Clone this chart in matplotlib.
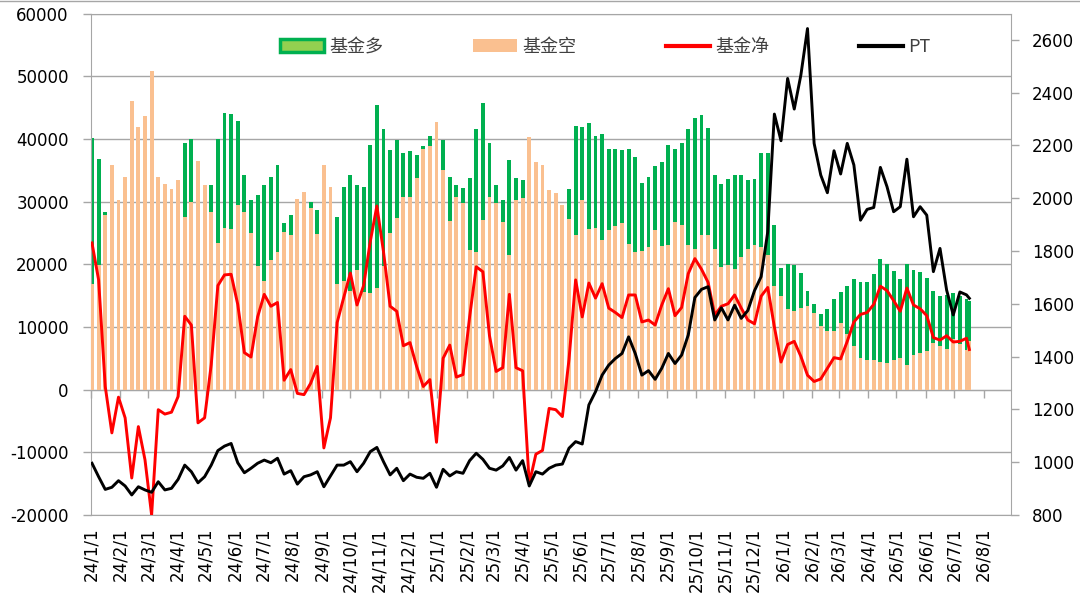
import numpy as np
import pandas as pd
import matplotlib
matplotlib.use("Agg")
import matplotlib.pyplot as plt
import matplotlib.dates as mdates
from matplotlib.lines import Line2D

plt.rcParams['font.family'] = ['DejaVu Sans', 'Noto Sans CJK SC']
plt.rcParams['axes.unicode_minus'] = False

# weekly dates (Tuesdays) plus one latest point a few days after the last week
weeks = pd.date_range('2024-01-02', periods=133, freq='7D')
dates = list(weeks) + [pd.Timestamp('2026-07-17')]

# 基金多 (fund long)
fund_long = [
    40200, 36800, 28400, 28900, 29000, 29400, 32000, 36000, 32400, 30800,
    30700, 28900, 28400, 32400, 39300, 40000, 31100, 28200, 32600, 40000,
    44100, 44000, 42800, 34200, 30200, 31000, 32600, 33900, 35900, 26600,
    27900, 29800, 30700, 29900, 28600, 26600, 27900, 27600, 32300, 34300,
    32600, 32300, 39100, 45400, 41600, 38300, 39800, 37800, 38100, 37400,
    38900, 40400, 34300, 39900, 33900, 32700, 32100, 33800, 41500, 45700,
    39400, 32700, 30200, 36700, 33800, 33500, 25300, 25800, 26100, 28800,
    28100, 25200, 32000, 42000, 41900, 42600, 40400, 40700, 38400, 38400,
    38200, 38400, 37100, 32900, 33900, 35600, 36300, 39100, 38400, 39300,
    41600, 43300, 43800, 41800, 34300, 32800, 33600, 34300, 34200, 33500,
    33600, 37700, 37800, 26200, 19400, 20100, 19900, 18600, 15800, 13700,
    12000, 12800, 14400, 15500, 16500, 17700, 17100, 17100, 18400, 20900,
    20100, 18900, 17600, 20100, 19100, 18700, 17800, 15700, 14900, 15100,
    15400, 15000, 14500, 14100,
]

# 基金空 (fund short)
fund_short = [
    16900, 19900, 27900, 35800, 30200, 33900, 46100, 41900, 43600, 50800,
    33900, 32800, 32000, 33500, 27600, 29900, 36400, 32700, 28300, 23400,
    25800, 25600, 29500, 28300, 25000, 19800, 17400, 20600, 22000, 25100,
    24700, 30400, 31500, 29000, 24900, 35900, 32400, 16900, 17300, 15700,
    19100, 15500, 15400, 16200, 19700, 25000, 27300, 30700, 30700, 33700,
    38400, 38800, 42700, 35000, 26900, 30700, 29700, 22300, 21900, 27000,
    30700, 29800, 26800, 21500, 30300, 30600, 40300, 36300, 35800, 31800,
    31300, 29500, 27200, 24600, 30300, 25600, 25800, 23800, 25400, 26100,
    26600, 23300, 22000, 22100, 22800, 25400, 22900, 23000, 26700, 26200,
    23100, 22400, 24600, 24700, 22400, 19600, 19900, 19300, 21200, 22400,
    23100, 22800, 21500, 16600, 15000, 12900, 12500, 13100, 13400, 12300,
    10200, 9300, 9300, 10700, 8800, 6900, 5100, 4800, 4800, 4400,
    4300, 4700, 5100, 4000, 5600, 5900, 6100, 7400, 7000, 6500,
    8000, 7200, 6300, 7700,
]

# 基金净 (fund net)
fund_net = [
    23400, 17500, 500, -6900, -1200, -4500, -14100, -5900, -11200, -20000,
    -3200, -3900, -3600, -1100, 11700, 10300, -5300, -4500, 4000, 16600,
    18300, 18400, 13600, 5900, 5200, 11600, 15200, 13300, 13900, 1500,
    3200, -600, -800, 1000, 3700, -9300, -4500, 10700, 14700, 18600,
    13500, 16600, 23600, 29300, 22000, 13300, 12500, 7000, 7500, 3700,
    500, 1600, -8400, 5000, 7100, 2000, 2400, 11600, 19600, 18800,
    8600, 2900, 3500, 15200, 3500, 3000, -15000, -10300, -9700, -3000,
    -3200, -4300, 4800, 17500, 11600, 17000, 14600, 16900, 13000, 12300,
    11500, 15100, 15100, 10800, 11100, 10300, 13500, 16100, 11800, 13100,
    18500, 20900, 19200, 17100, 11900, 13300, 13700, 15100, 13000, 11100,
    10500, 14900, 16300, 10000, 4400, 7200, 7700, 5300, 2300, 1300,
    1700, 3400, 5100, 4900, 7700, 10800, 12000, 12300, 13600, 16500,
    15800, 14200, 12500, 16200, 13500, 12900, 11800, 8300, 7900, 8600,
    7600, 7700, 8200, 6400,
]

# PT price (right axis)
pt_price = [
    996, 945, 897, 905, 930, 910, 876, 907, 895, 886,
    926, 895, 901, 935, 989, 964, 922, 945, 989, 1044,
    1061, 1071, 998, 960, 977, 996, 1008, 998, 1015, 955,
    968, 917, 945, 952, 964, 907, 948, 989, 989, 1002,
    964, 996, 1040, 1056, 1002, 952, 977, 930, 955, 943,
    939, 958, 905, 973, 948, 964, 958, 1006, 1034, 1011,
    977, 970, 986, 1018, 970, 1006, 910, 964, 955, 977,
    989, 993, 1053, 1078, 1069, 1217, 1267, 1330, 1368, 1393,
    1412, 1475, 1412, 1330, 1347, 1314, 1356, 1412, 1374, 1406,
    1482, 1624, 1655, 1665, 1539, 1585, 1539, 1595, 1545, 1575,
    1650, 1703, 1873, 2319, 2218, 2454, 2338, 2467, 2643, 2208,
    2088, 2021, 2180, 2092, 2208, 2126, 1917, 1958, 1965, 2117,
    2044, 1949, 1968, 2148, 1930, 1968, 1936, 1722, 1810, 1652,
    1558, 1645, 1634, 1621,
]

x = mdates.date2num(dates)
months = pd.date_range('2024-01-01', '2026-08-01', freq='MS')
month_x = mdates.date2num(list(months))
month_labels = [f"{d.year % 100}/{d.month}/1" for d in months]

grey = '#A6A6A6'

fig = plt.figure(figsize=(10.8, 5.98), dpi=100)
ax = fig.add_axes([0.0843, 0.1388, 0.8518, 0.8386])

# same x and width, orange drawn in front of green (Excel 100% overlap)
b_long = ax.bar(x, fund_long, width=4.2, color='#00B050', linewidth=0,
                antialiased=False, zorder=2, label='基金多')
b_short = ax.bar(x, fund_short, width=4.2, color='#FAC090', linewidth=0,
                 antialiased=False, zorder=3, label='基金空')
l_net, = ax.plot(x, fund_net, color='#FF0000', lw=2.1, zorder=4, label='基金净')

ax.set_ylim(-20000, 60000)
ax.set_yticks(np.arange(-20000, 60001, 10000))
ax.set_xlim(mdates.date2num(pd.Timestamp('2024-01-01')),
            mdates.date2num(pd.Timestamp('2026-08-30')))
ax.yaxis.grid(True, color=grey, lw=1)
ax.set_axisbelow(True)

# category axis crosses at zero, labels stay at the bottom
ax.spines['bottom'].set_position(('data', 0))
ax.set_xticks(month_x)
ax.tick_params(axis='x', direction='out', length=6, color=grey, width=1,
               labelbottom=False)
ax.tick_params(axis='y', direction='out', length=6, color=grey, width=1,
               labelsize=12, pad=10)
for s in ['left', 'bottom', 'top']:
    ax.spines[s].set_color(grey)
ax.spines['right'].set_visible(False)

sec = ax.secondary_xaxis('bottom')
sec.set_xticks(month_x, labels=month_labels, rotation=90, fontsize=12)
sec.tick_params(length=0, pad=9)
sec.spines['bottom'].set_color(grey)

ax2 = ax.twinx()
l_pt, = ax2.plot(x, pt_price, color='black', lw=2.1, zorder=5, label='PT')
ax2.set_ylim(800, 2700)
ax2.set_yticks(np.arange(800, 2601, 200))
ax2.tick_params(axis='y', direction='out', length=6, color=grey, width=1,
                labelsize=12, pad=9)
for s in ['left', 'bottom', 'top']:
    ax2.spines[s].set_visible(False)
ax2.spines['right'].set_color(grey)

leg = ax2.legend([b_long, b_short, l_net, l_pt], ['基金多', '基金空', '基金净', 'PT'],
                 loc='center', bbox_to_anchor=(0.559, 0.933), ncol=4, frameon=False,
                 prop={'family': ['Noto Sans CJK SC', 'DejaVu Sans'], 'size': 13},
                 handlelength=2.4, handletextpad=0.3, columnspacing=5.0,
                 labelcolor='#404040')
leg.legend_handles[0].set_facecolor('#92D050')
leg.legend_handles[0].set_edgecolor('#00B050')
leg.legend_handles[0].set_linewidth(2.5)
leg.legend_handles[0].set_antialiased(True)
leg.legend_handles[1].set_antialiased(True)
leg.legend_handles[2].set_linewidth(3)
leg.legend_handles[3].set_linewidth(3)

# thin chart-area border at the top edge
fig.add_artist(Line2D([0, 1], [0.998, 0.998], transform=fig.transFigure,
                      color=grey, lw=1))

fig.savefig('out.png', dpi=100)
